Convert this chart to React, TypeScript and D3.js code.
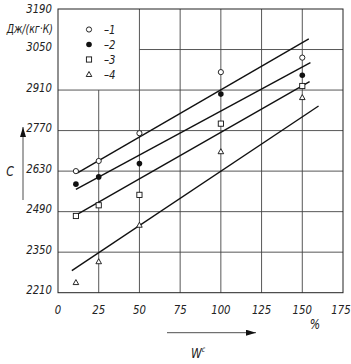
import React, { useRef, useEffect } from 'react';
import * as d3 from 'd3';

// measured points: x = W^c (%), c = J/(kg K)
const xs = [11, 25, 50, 100, 150];
const series1 = [2630, 2665, 2761, 2972, 3022];
const series2 = [2585, 2610, 2656, 2896, 2961];
const series3 = [2475, 2512, 2548, 2794, 2924];
const series4 = [2245, 2317, 2443, 2697, 2884];

// fitted lines: [x0, c0, x1, c1]
const fit1 = [12, 2624, 154, 3087];
const fit2 = [11, 2567, 155, 3005];
const fit3 = [11, 2478, 154.5, 2939];
const fit4 = [8.5, 2286, 160, 2855];

const xTicks = [0, 25, 50, 75, 100, 125, 150, 175];
const yTicks = [2210, 2350, 2490, 2630, 2770, 2910, 3050, 3190];
const legendLabels = ['–1', '–2', '–3', '–4'];

const FONT = "'DejaVu Sans', sans-serif";
const SQUEEZE = 0.78;

const Chart = () => {
  const svgRef = useRef<SVGSVGElement>(null);

  useEffect(() => {
    const svg = d3.select(svgRef.current);
    svg.selectAll('*').remove();

    const x = d3.scaleLinear().domain([0, 175]).range([58, 343]);
    const y = d3.scaleLinear().domain([2210, 3190]).range([292.7, 9]);

    // narrow italic text, like drafting lettering
    const label = (g: any, tx: number, ty: number, str: string, size: number, anchor = 'start') =>
      g.append('text')
        .attr('transform', `translate(${tx},${ty}) scale(${SQUEEZE},1)`)
        .attr('text-anchor', anchor)
        .style('font-family', FONT).style('font-style', 'italic')
        .style('font-size', `${size}px`).attr('fill', '#222')
        .text(str);

    const grid = svg.append('g').attr('stroke', '#444').attr('stroke-width', 0.9);

    // vertical grid
    xTicks.slice(1, -1).forEach(t => {
      grid.append('line')
        .attr('x1', x(t)).attr('x2', x(t))
        .attr('y1', t < 50 ? y(2910) : y(3190)).attr('y2', y(2210));
    });
    // horizontal grid
    yTicks.slice(1, -1).forEach(t => {
      grid.append('line')
        .attr('x1', t > 2910 ? x(50) : x(0)).attr('x2', x(175))
        .attr('y1', y(t)).attr('y2', y(t));
    });
    // frame
    svg.append('rect')
      .attr('x', x(0)).attr('y', y(3190))
      .attr('width', x(175) - x(0)).attr('height', y(2210) - y(3190))
      .attr('fill', 'none').attr('stroke', '#222').attr('stroke-width', 1);

    // tick labels
    const tl = svg.append('g');
    yTicks.forEach(d => label(tl, 52, Math.max(y(d) + 1.5, 12.5), String(d), 13, 'end'));
    label(tl, 53, 33, 'Дж/(кг·К)', 12, 'end');
    xTicks.forEach(d => label(tl, Math.min(x(d), 341), 314, String(d), 13, 'middle'));

    // fitted lines
    const line = d3.line<[number, number]>().x(d => x(d[0])).y(d => y(d[1]));
    [fit1, fit2, fit3, fit4].forEach(f => {
      svg.append('path')
        .attr('d', line([[f[0], f[1]], [f[2], f[3]]]))
        .attr('stroke', '#111').attr('stroke-width', 1.4).attr('fill', 'none');
    });

    // markers
    const drawMarker = (g: any, kind: number, cx: number, cy: number) => {
      if (kind === 0) {
        g.append('circle').attr('cx', cx).attr('cy', cy).attr('r', 2.6)
          .attr('fill', 'white').attr('stroke', '#111').attr('stroke-width', 0.9);
      } else if (kind === 1) {
        g.append('circle').attr('cx', cx).attr('cy', cy).attr('r', 2.8).attr('fill', '#111');
      } else if (kind === 2) {
        g.append('rect').attr('x', cx - 2.6).attr('y', cy - 2.6).attr('width', 5.2).attr('height', 5.2)
          .attr('fill', 'white').attr('stroke', '#111').attr('stroke-width', 0.9);
      } else {
        g.append('path')
          .attr('d', `M${cx},${cy - 3}L${cx + 2.8},${cy + 2}L${cx - 2.8},${cy + 2}Z`)
          .attr('fill', 'white').attr('stroke', '#111').attr('stroke-width', 0.9);
      }
    };

    const marks = svg.append('g');
    [series1, series2, series3, series4].forEach((s, k) => {
      s.forEach((v, i) => drawMarker(marks, k, x(xs[i]), y(v)));
    });

    // legend
    const legend = svg.append('g');
    legendLabels.forEach((lab, k) => {
      const ly = 29.5 + k * 15;
      drawMarker(legend, k, 89, ly);
      label(legend, 104, ly + 4.5, lab, 13);
    });

    // axis titles with arrows
    svg.append('defs').append('marker')
      .attr('id', 'arr').attr('viewBox', '0 0 10 6')
      .attr('refX', 10).attr('refY', 3)
      .attr('markerWidth', 10).attr('markerHeight', 6)
      .attr('markerUnits', 'userSpaceOnUse').attr('orient', 'auto')
      .append('path').attr('d', 'M0,0L10,3L0,6Z').attr('fill', '#111');

    svg.append('line')
      .attr('x1', 23).attr('y1', 200).attr('x2', 23).attr('y2', 127)
      .attr('stroke', '#222').attr('stroke-width', 0.8).attr('marker-end', 'url(#arr)');
    label(svg, 10, 176, 'C', 14, 'middle');

    svg.append('line')
      .attr('x1', 167).attr('y1', 332.7).attr('x2', 256).attr('y2', 332.7)
      .attr('stroke', '#222').attr('stroke-width', 0.8).attr('marker-end', 'url(#arr)');
    label(svg, 315, 329, '%', 14, 'middle');

    const w = label(svg, 191, 358, '', 14);
    w.append('tspan').text('W');
    w.append('tspan').attr('dy', -6).style('font-size', '8px').text('c');
  }, []);

  return (
    <svg
      ref={svgRef}
      width={351}
      height={364}
      style={{ position: 'absolute', left: 0, top: 0, background: 'white' }}
    ></svg>
  );
};

export default function App() {
  return <Chart />;
}
